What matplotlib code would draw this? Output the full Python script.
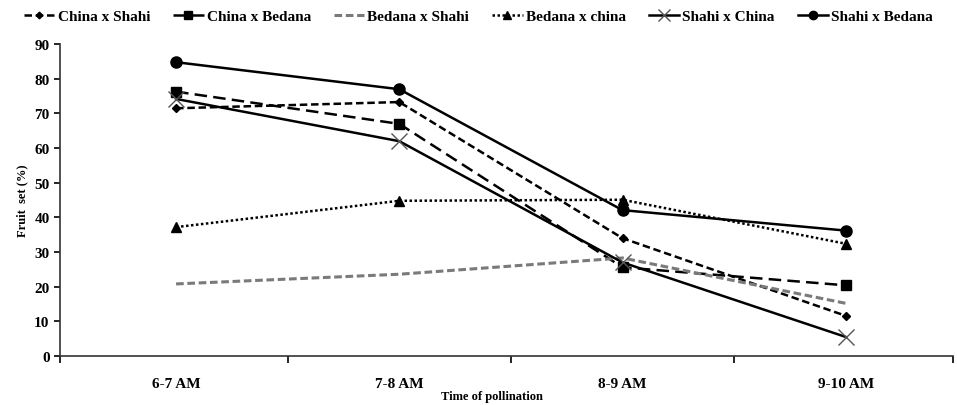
import matplotlib
matplotlib.use("Agg")
import matplotlib.pyplot as plt

plt.rcParams["font.family"] = ["Liberation Serif", "DejaVu Serif"]
plt.rcParams["font.weight"] = "bold"

# Data
times = ["6-7 AM", "7-8 AM", "8-9 AM", "9-10 AM"]
china_x_shahi = [71.5, 73.3, 34.0, 11.6]
china_x_bedana = [76.3, 67.0, 25.6, 20.4]
bedana_x_shahi = [20.8, 23.6, 28.3, 15.2]
bedana_x_china = [37.2, 44.8, 45.1, 32.4]
shahi_x_china = [74.2, 62.0, 27.0, 5.5]
shahi_x_bedana = [84.8, 77.0, 42.1, 36.2]

fig = plt.figure(figsize=(9.57, 4.06), dpi=100)
ax = fig.add_axes([0.0627, 0.1207, 0.933, 0.768])

x = list(range(len(times)))
ax.plot(x, china_x_shahi, color="black", lw=1.8, ls=(0, (3, 1.5)),
        marker="D", ms=4.5, label="China x Shahi")
ax.plot(x, china_x_bedana, color="black", lw=1.8, ls=(0, (5, 2.5)),
        marker="s", ms=7, label="China x Bedana")
ax.plot(x, bedana_x_shahi, color="#7a7a7a", lw=2.2, ls=(0, (2.5, 1.2)),
        label="Bedana x Shahi")
ax.plot(x, bedana_x_china, color="black", lw=1.8, ls=(0, (1, 1)),
        marker="^", ms=7, label="Bedana x china")
ax.plot(x, shahi_x_china, color="black", lw=1.8, ls="-",
        marker="x", ms=12, mec="#555555", mew=1.0, label="Shahi x China")
ax.plot(x, shahi_x_bedana, color="black", lw=1.8, ls="-",
        marker="o", ms=8, label="Shahi x Bedana")

ax.set_xlim(-0.52, 3.48)
ax.set_ylim(0, 90)
ax.set_yticks(range(0, 91, 10))
ax.set_xticks(x)
ax.set_xticklabels(times)
ax.tick_params(axis="x", length=0, pad=15, labelsize=11)
ax.set_xticks([-0.52, 0.5, 1.5, 2.5, 3.48], minor=True)
ax.tick_params(axis="x", which="minor", length=5, direction="out", width=1.2)
ax.tick_params(axis="y", length=4, width=1.2, labelsize=11)
for lab in ax.get_xticklabels() + ax.get_yticklabels():
    lab.set_fontweight("bold")

for s in ["top", "right"]:
    ax.spines[s].set_visible(False)
for s in ["left", "bottom"]:
    ax.spines[s].set_linewidth(1.2)
    ax.spines[s].set_color("#333333")

ax.set_ylabel("Fruit  set (%)", fontsize=9, fontweight="bold", labelpad=4)
ax.set_xlabel("Time of pollination", fontsize=9, fontweight="bold")
ax.xaxis.set_label_coords(0.484, -0.108)

fig.legend(loc="upper center", bbox_to_anchor=(0.5, 1.0), ncol=6,
           frameon=False, fontsize=11, handlelength=2.0, handletextpad=0.2,
           columnspacing=1.5, borderaxespad=0.3, markerscale=0.75)

fig.savefig("out.png", dpi=100)
